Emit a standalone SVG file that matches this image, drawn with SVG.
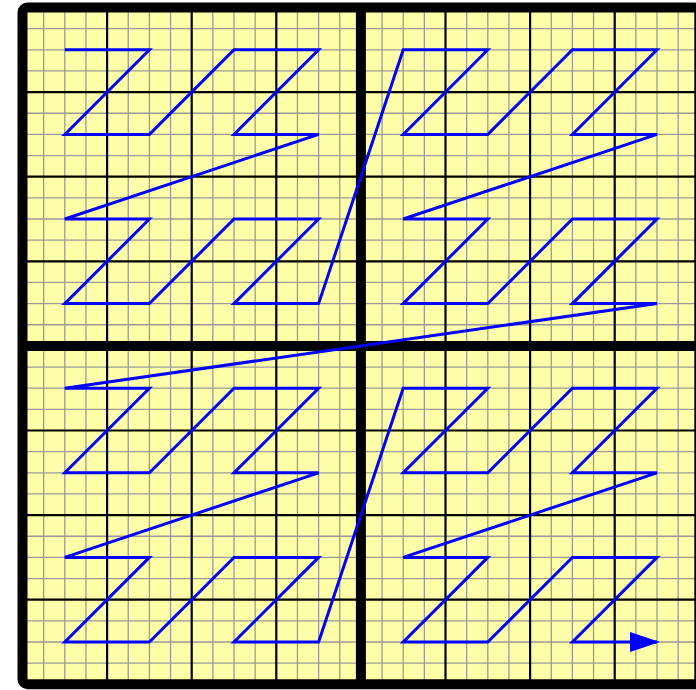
<svg xmlns="http://www.w3.org/2000/svg" width="696" height="690" viewBox="0 0 696 690">
<style>
.fine{stroke:#9a9a9a;stroke-width:1.3;fill:none}
.mid{stroke:#000;stroke-width:2.2;fill:none}
.thick{stroke:#000;stroke-width:10;fill:none}
.curve{stroke:#0000ff;stroke-width:3;fill:none;stroke-linejoin:miter}
</style>
<defs>
<marker id="arr" markerUnits="userSpaceOnUse" markerWidth="32" markerHeight="22" refX="27" refY="10" orient="auto" viewBox="0 0 32 22">
<path d="M0,0 L30,10 L0,20 z" fill="#0000ff"/>
</marker>
</defs>
<rect width="696" height="690" fill="#fff"/>
<g id="grid">
<rect x="22.5" y="7.5" width="676.8" height="676.8" fill="#ffffaa"/>
<path class="fine" d="M43.65 7.5V684.3M64.8 7.5V684.3M85.95 7.5V684.3M128.25 7.5V684.3M149.4 7.5V684.3M170.55 7.5V684.3M212.85 7.5V684.3M234 7.5V684.3M255.15 7.5V684.3M297.45 7.5V684.3M318.6 7.5V684.3M339.75 7.5V684.3M382.05 7.5V684.3M403.2 7.5V684.3M424.35 7.5V684.3M466.65 7.5V684.3M487.8 7.5V684.3M508.95 7.5V684.3M551.25 7.5V684.3M572.4 7.5V684.3M593.55 7.5V684.3M635.85 7.5V684.3M657 7.5V684.3M678.15 7.5V684.3
M22.5 28.65H699.3M22.5 49.8H699.3M22.5 70.95H699.3M22.5 113.25H699.3M22.5 134.4H699.3M22.5 155.55H699.3M22.5 197.85H699.3M22.5 219H699.3M22.5 240.15H699.3M22.5 282.45H699.3M22.5 303.6H699.3M22.5 324.75H699.3M22.5 367.05H699.3M22.5 388.2H699.3M22.5 409.35H699.3M22.5 451.65H699.3M22.5 472.8H699.3M22.5 493.95H699.3M22.5 536.25H699.3M22.5 557.4H699.3M22.5 578.55H699.3M22.5 620.85H699.3M22.5 642H699.3M22.5 663.15H699.3"/>
<path class="mid" d="M107.1 7.5V684.3M191.7 7.5V684.3M276.3 7.5V684.3M445.5 7.5V684.3M530.1 7.5V684.3M614.7 7.5V684.3M22.5 92.1H699.3M22.5 176.7H699.3M22.5 261.3H699.3M22.5 430.5H699.3M22.5 515.1H699.3M22.5 599.7H699.3"/>
<path class="thick" d="M360.9 7.5V684.3M22.5 345.9H699.3"/>
<rect class="thick" x="22.5" y="7.5" width="676.8" height="676.8" rx="5"/>
</g>
<g id="connectors">
<polyline class="curve" marker-end="url(#arr)" points="64.8,49.8 149.4,49.8 64.8,134.4 149.4,134.4 234,49.8 318.6,49.8 234,134.4 318.6,134.4 64.8,219 149.4,219 64.8,303.6 149.4,303.6 234,219 318.6,219 234,303.6 318.6,303.6 403.2,49.8 487.8,49.8 403.2,134.4 487.8,134.4 572.4,49.8 657,49.8 572.4,134.4 657,134.4 403.2,219 487.8,219 403.2,303.6 487.8,303.6 572.4,219 657,219 572.4,303.6 657,303.6 64.8,388.2 149.4,388.2 64.8,472.8 149.4,472.8 234,388.2 318.6,388.2 234,472.8 318.6,472.8 64.8,557.4 149.4,557.4 64.8,642 149.4,642 234,557.4 318.6,557.4 234,642 318.6,642 403.2,388.2 487.8,388.2 403.2,472.8 487.8,472.8 572.4,388.2 657,388.2 572.4,472.8 657,472.8 403.2,557.4 487.8,557.4 403.2,642 487.8,642 572.4,557.4 657,557.4 572.4,642 657,642"/>
</g>
</svg>
